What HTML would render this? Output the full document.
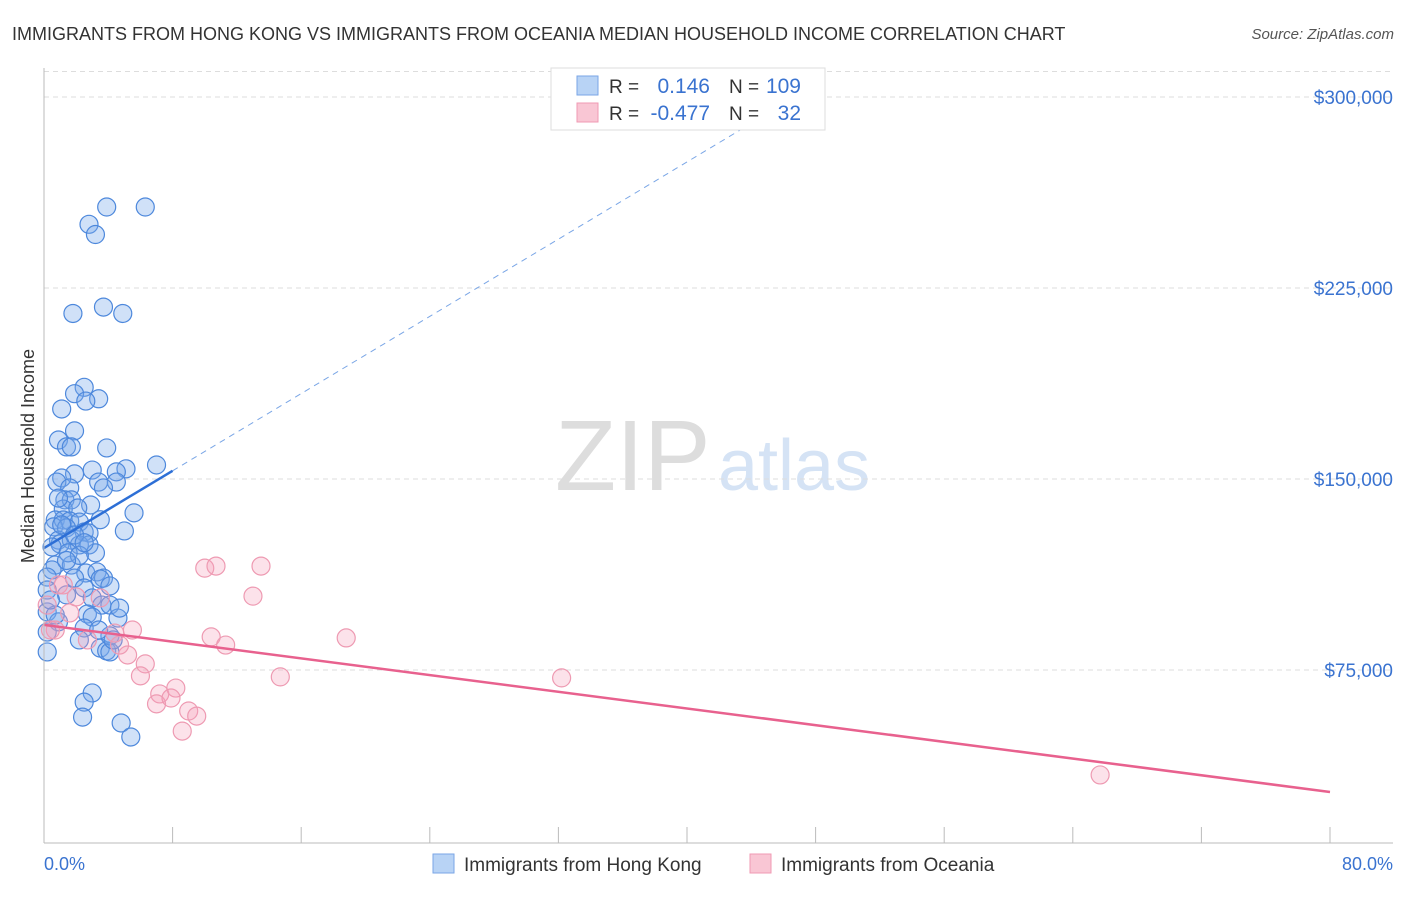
<!DOCTYPE html>
<html><head><meta charset="utf-8"><style>
body{margin:0;background:#fff;font-family:"Liberation Sans",sans-serif}
svg text{font-family:"Liberation Sans",sans-serif}
</style></head><body>
<svg id="c" width="1406" height="892" xmlns="http://www.w3.org/2000/svg">
<text x="12" y="40" font-size="18" fill="#333">IMMIGRANTS FROM HONG KONG VS IMMIGRANTS FROM OCEANIA MEDIAN HOUSEHOLD INCOME CORRELATION CHART</text>
<text x="1394" y="39" font-size="15" fill="#555" font-style="italic" text-anchor="end">Source: ZipAtlas.com</text>
<text x="34" y="456" font-size="18" fill="#333" transform="rotate(-90 34 456)" text-anchor="middle">Median Household Income</text>
<text x="555" y="490" font-size="100" fill="#ddd" font-family="Liberation Serif">ZIP</text>
<text x="718" y="490" font-size="72" fill="#d5e3f5">atlas</text>
<g id="grid"></g><g id="pts"></g><g id="lines"></g>
<line x1="44" y1="68" x2="44" y2="843" stroke="#bbb"/>
<line x1="44" y1="843" x2="1393" y2="843" stroke="#bbb"/>
<text x="44" y="870" font-size="18" fill="#3a73d0">0.0%</text>
<text x="1393" y="870" font-size="18" fill="#3a73d0" text-anchor="end">80.0%</text>
<g>
<rect x="551" y="68" width="274" height="62" fill="#fff" stroke="#ddd"/>
<rect x="577" y="76" width="21" height="19" fill="#b8d3f5" stroke="#7aa6e6"/>
<rect x="577" y="103" width="21" height="19" fill="#f9c6d4" stroke="#f09ab3"/>
<text x="609" y="93" font-size="19" fill="#333">R =</text><text x="710" y="93" font-size="21" fill="#3a73d0" text-anchor="end">0.146</text>
<text x="729" y="93" font-size="19" fill="#333">N =</text><text x="801" y="93" font-size="21" fill="#3a73d0" text-anchor="end">109</text>
<text x="609" y="120" font-size="19" fill="#333">R =</text><text x="710" y="120" font-size="21" fill="#3a73d0" text-anchor="end">-0.477</text>
<text x="729" y="120" font-size="19" fill="#333">N =</text><text x="801" y="120" font-size="21" fill="#3a73d0" text-anchor="end">32</text>
</g>
<g>
<rect x="433" y="854" width="21" height="19" fill="#b8d3f5" stroke="#7aa6e6"/>
<text x="464" y="871" font-size="19" fill="#333">Immigrants from Hong Kong</text>
<rect x="750" y="854" width="21" height="19" fill="#f9c6d4" stroke="#f09ab3"/>
<text x="781" y="871" font-size="19" fill="#333">Immigrants from Oceania</text>
</g>
</svg>
<script>
const yTicks=[75000,150000,225000,300000];
const yTickLabels=["$75,000","$150,000","$225,000","$300,000"];
const xTicks=[0,8,16,24,32,40,48,56,64,72,80];
const hkX=[3.9,6.3,2.8,3.2,1.8,3.7,4.9,2.5,1.9,3.4,2.6,1.1,0.9,1.9,1.4,1.7,3.9,7.0,3.0,5.1,4.5,1.9,1.1,0.8,3.4,4.5,3.7,1.6,1.3,1.7,2.9,1.2,2.1,5.6,5.0,0.7,1.2,1.6,2.2,0.6,1.4,2.5,2.8,0.9,1.7,1.0,0.5,2.2,2.8,3.2,0.7,1.7,0.5,2.6,3.3,0.2,1.9,3.7,3.5,4.1,2.5,1.4,0.2,3.0,3.6,4.1,0.2,2.7,3.0,4.6,0.9,2.5,0.2,2.2,3.5,3.9,4.1,4.1,0.2,3.0,2.5,2.4,4.8,5.4,0.7,3.4,4.3,1.1,1.9,1.5,2.2,0.9,2.5,0.4,4.7,1.4,3.5];
const hkY=[256.8,256.8,250,246,215,217.5,215,186,183.5,181.5,180.6,177.5,165.3,168.9,162.6,162.6,162.2,155.5,153.5,154,152.8,152,150.4,148.8,148.8,148.8,146.5,146.5,141.8,141.8,139.8,138.2,138.6,136.7,129.6,133.9,133.9,133.5,133.1,131.2,130.8,129.2,128.8,126,126,124.5,123.3,124.1,124.1,121,116.2,116.2,114.3,113.1,113.5,111.5,111.1,111.1,110.7,108,107.2,104.5,106.4,103.3,100.5,100.5,97.8,97,95.8,95.4,93.9,91.5,89.9,86.8,83.6,82.5,82.1,88.4,82.1,66,62.4,56.5,54.2,48.7,96.6,90.7,86.8,132,128,121,120,142.5,125,102.5,99.3,118,134];
const ocX=[0.9,1.2,0.2,1.6,2.0,0.7,2.7,3.5,4.4,5.5,5.2,6.3,6.0,7.2,7.0,8.2,7.9,9.0,9.5,8.6,10.0,10.7,13.5,13.0,10.4,11.3,14.7,18.8,32.2,65.7,0.4,4.7];
const ocY=[108.4,108.4,100.5,97.4,103.7,90.7,86.8,103.3,89.5,90.7,80.9,77.4,72.7,65.6,61.7,67.9,64,58.9,56.9,51,115,115.8,115.8,104,88,84.8,72.3,87.6,71.9,33.8,90.7,84.8];
const hkFit=[122.9,3.79];
const ocFit=[92.7,-0.82];
const NS="http://www.w3.org/2000/svg";
const X=v=>44+(v/80)*1286;
const Y=k=>861-(k/75)*191;
function mk(t,a,p){const e=document.createElementNS(NS,t);for(const k in a)e.setAttribute(k,a[k]);document.getElementById(p).appendChild(e);return e;}
[310000].concat(yTicks).forEach((v,i)=>{const y=Y(v/1000);const g=mk('line',{x1:44,x2:1393,y1:y,y2:y,stroke:'#ddd','stroke-dasharray':'5,4'},'grid');


if(i>0){const t=mk('text',{x:1393,y:y+7,'font-size':19,fill:'#3a73d0','text-anchor':'end'},'grid');t.textContent=yTickLabels[i-1];

}});
xTicks.forEach(v=>{const l=mk('line',{x1:X(v),x2:X(v),y1:827,y2:843,stroke:'#bbb'},'grid');

});
hkX.forEach((x,i)=>{const c=mk('circle',{cx:X(x),cy:Y(hkY[i]),r:9,fill:'rgba(120,170,235,0.35)',stroke:'#4d88dc','stroke-width':1.2},'pts');

});
ocX.forEach((x,i)=>{const c=mk('circle',{cx:X(x),cy:Y(ocY[i]),r:9,fill:'rgba(245,160,185,0.3)',stroke:'#ee9ab2','stroke-width':1.2},'pts');

});
const f=(p,x)=>p[0]+p[1]*x;
let l=mk('line',{x1:X(0),y1:Y(f(hkFit,0)),x2:X(8),y2:Y(f(hkFit,8)),stroke:'#2d6fd6','stroke-width':2.5},'lines');


l=mk('line',{x1:X(8),y1:Y(f(hkFit,8)),x2:X(46),y2:Y(f(hkFit,46)),stroke:'#7aa6e6','stroke-width':1,'stroke-dasharray':'6,5'},'lines');


l=mk('line',{x1:X(0),y1:Y(f(ocFit,0)),x2:X(80),y2:Y(f(ocFit,80)),stroke:'#e8618e','stroke-width':2.5},'lines');


</script>
</body></html>
